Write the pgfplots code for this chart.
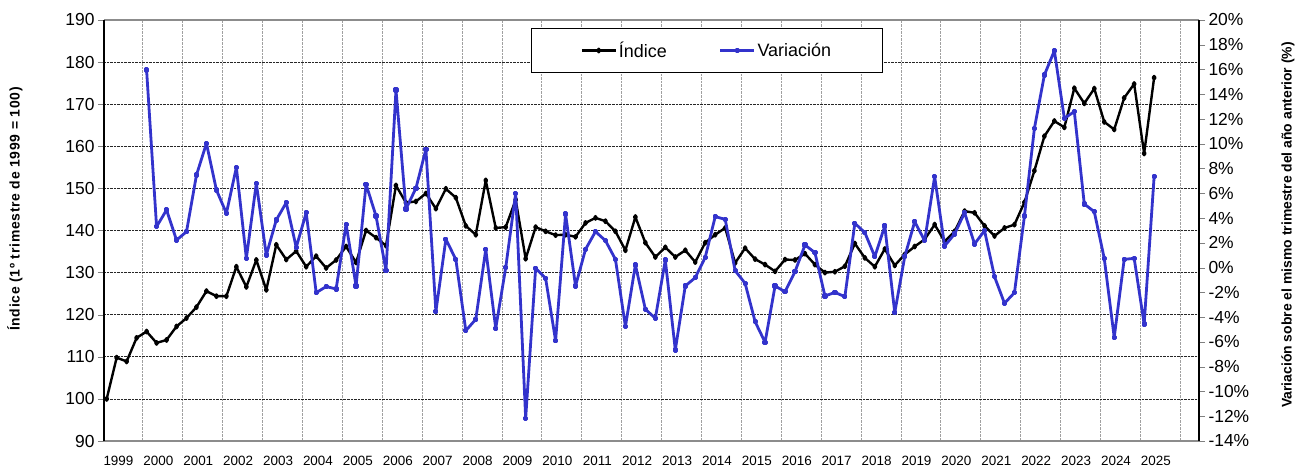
\documentclass[border=0pt]{standalone}
\usepackage{fontspec}
\setmainfont{Liberation Sans}
\usepackage{pgfplots}
\pgfplotsset{compat=1.18}
\usepackage{pgfplotstable}
\definecolor{varblue}{RGB}{51,51,204}
\definecolor{gridgray}{RGB}{160,160,160}
\definecolor{axisgray}{RGB}{140,140,140}

\pgfplotstableread{
i v
0 100.0
1 109.8
2 108.9
3 114.5
4 116.0
5 113.3
6 114.0
7 117.2
8 119.2
9 121.8
10 125.6
11 124.4
12 124.4
13 131.4
14 126.6
15 133.0
16 125.9
17 136.6
18 133.1
19 135.1
20 131.4
21 133.9
22 131.1
23 133.0
24 136.2
25 132.4
26 140.0
27 138.3
28 136.4
29 150.7
30 146.6
31 146.9
32 148.8
33 145.2
34 149.9
35 147.8
36 141.1
37 139.0
38 151.9
39 140.6
40 140.8
41 147.3
42 133.3
43 140.8
44 139.8
45 138.9
46 139.0
47 138.5
48 141.8
49 143.0
50 142.2
51 139.8
52 135.3
53 143.2
54 137.1
55 133.7
56 136.0
57 133.7
58 135.3
59 132.5
60 137.1
61 139.0
62 140.6
63 132.3
64 135.8
65 133.2
66 131.9
67 130.3
68 133.1
69 133.0
70 134.5
71 131.9
72 130.0
73 130.2
74 131.5
75 136.9
76 133.5
77 131.4
78 135.6
79 131.7
80 134.3
81 136.2
82 137.9
83 141.4
84 137.4
85 139.8
86 144.6
87 144.2
88 141.1
89 138.7
90 140.6
91 141.4
92 146.7
93 154.2
94 162.4
95 166.0
96 164.5
97 173.8
98 170.2
99 173.7
100 165.8
101 164.0
102 171.5
103 174.8
104 158.3
105 176.3
}\indice

\pgfplotstableread{
i v
4 15.96
5 3.31
6 4.66
7 2.23
8 2.90
9 7.48
10 10.04
11 6.27
12 4.39
13 8.10
14 0.75
15 6.81
16 1.02
17 3.85
18 5.25
19 1.64
20 4.44
21 -2.02
22 -1.53
23 -1.72
24 3.50
25 -1.48
26 6.73
27 4.17
28 -0.24
29 14.35
30 4.74
31 6.41
32 9.56
33 -3.55
34 2.29
35 0.67
36 -5.09
37 -4.17
38 1.48
39 -4.90
40 0.00
41 6.00
42 -12.17
43 -0.05
44 -0.86
45 -5.90
46 4.33
47 -1.48
48 1.48
49 2.91
50 2.18
51 0.67
52 -4.76
53 0.22
54 -3.36
55 -4.09
56 0.62
57 -6.65
58 -1.48
59 -0.81
60 0.83
61 4.12
62 3.90
63 -0.24
64 -1.27
65 -4.36
66 -6.03
67 -1.48
68 -1.94
69 -0.32
70 1.83
71 1.21
72 -2.29
73 -2.00
74 -2.34
75 3.58
76 2.83
77 0.89
78 3.36
79 -3.63
80 0.89
81 3.71
82 2.18
83 7.35
84 1.75
85 2.72
86 4.44
87 1.91
88 2.99
89 -0.73
90 -2.88
91 -2.02
92 4.17
93 11.25
94 15.56
95 17.52
96 12.06
97 12.60
98 5.14
99 4.52
100 0.75
101 -5.63
102 0.67
103 0.75
104 -4.55
105 7.35
}\variacion

\begin{document}
\begin{tikzpicture}
\useasboundingbox (-104bp,-25bp) rectangle (1191bp,441bp);
\pgfplotsset{
  common/.style={
    scale only axis, width=1095bp, height=421bp,
    xmin=-0.27, xmax=109.5,
    /pgf/number format/assume math mode=true,
    tick align=outside,
    major tick length=6bp,
    minor tick length=0bp,
    yticklabel style={font=\fontsize{17.5}{20}\selectfont},
  },
  legend image code/.code={\draw[mark repeat=2,mark phase=2,#1] plot coordinates {(0bp,0bp) (17bp,0bp) (34bp,0bp)};},
}
\begin{axis}[common,
  separate axis lines,
  x axis line style={axisgray, line width=1.3bp},
  y axis line style={black, line width=1.1bp},
  ymin=90, ymax=190, ytick={90,100,...,190},
  ytick pos=left,
  xtick={1.18,5.18,...,105.5},
  xticklabels={1999,2000,2001,2002,2003,2004,2005,2006,2007,2008,2009,2010,2011,2012,2013,2014,2015,2016,2017,2018,2019,2020,2021,2022,2023,2024,2025},
  minor xtick={3.62,7.62,...,108},
  x tick style={draw=none},
  xticklabel style={font=\fontsize{13.5}{15}\selectfont, anchor=north, inner sep=0pt, yshift=-9bp},
  ymajorgrids, xminorgrids,
  major y grid style={black!85, densely dotted, line width=0.7bp},
  minor x grid style={gridgray, densely dotted, line width=0.7bp},
  ylabel={\addfontfeatures{LetterSpace=5}Índice (1º trimestre de 1999 = 100)},
  ylabel style={font=\fontsize{14}{16}\selectfont\bfseries, at={(axis description cs:-0.0813,0.551)}, anchor=center},
]
\addplot[black, line width=2.4bp, line join=round, mark=diamond*, mark size=1.7bp, mark options={solid}] table[x=i,y=v]{\indice};
\end{axis}
\begin{axis}[common,
  axis y line*=right,
  hide x axis,
  y axis line style={black, line width=1.1bp},
  ymin=-14, ymax=20, ytick={-14,-12,...,20},
  yticklabel={\pgfmathprintnumber{\tick}\%},
  ylabel={Variación sobre el mismo trimestre del año anterior (\%)},
  ylabel style={font=\fontsize{14}{16}\selectfont\bfseries, at={(axis description cs:1.0813,0.513)}, anchor=center},
  legend columns=2,
  legend style={at={(axis description cs:0.390,0.981)}, anchor=north west, draw=black, line width=1bp, fill=white,
    font=\fontsize{18}{20}\selectfont, inner xsep=49bp, inner ysep=11.5bp,
    /tikz/every even column/.append style={column sep=50bp}},
]
\addlegendimage{black, line width=2.4bp, line join=round, mark=diamond*, mark size=1.7bp, mark options={solid}}
\addlegendentry{Índice}
\addplot[varblue, line width=2.8bp, line join=round, mark=square*, mark size=1.2bp, mark options={solid}] table[x=i,y=v]{\variacion};
\addlegendentry{Variación}
\end{axis}
\end{tikzpicture}
\end{document}
